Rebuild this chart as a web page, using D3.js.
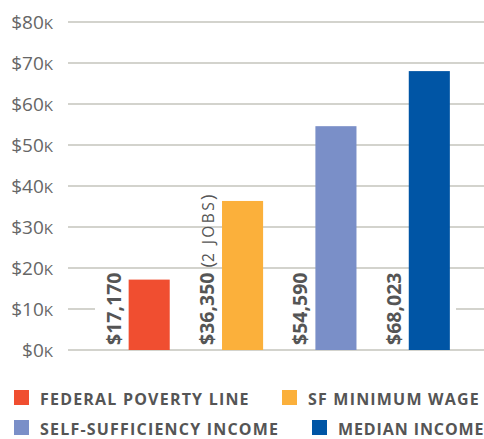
<!DOCTYPE html>
<html><head><meta charset="utf-8">
<script src="https://cdn.jsdelivr.net/npm/d3@7"></script>
<style>body{margin:0;background:#fff}svg{display:block}</style>
</head><body>
<script>
const categories = ["Federal Poverty Line","SF Minimum Wage","Self-Sufficiency Income","Median Income"];
const values = [17170, 36350, 54590, 68023];
const valueLabels = ["$17,170","$36,350","$54,590","$68,023"];
const valueNotes = ["","(2 jobs)","",""];
const colors = ["#f04e30","#fbb03b","#7a8fc8","#0055a5"];
const yTicks = [0,10000,20000,30000,40000,50000,60000,70000,80000];

const W=484,H=439;
const svg=d3.select("body").append("svg").attr("width",W).attr("height",H);
const font="'Open Sans', sans-serif";
const y=d3.scaleLinear().domain([0,80000]).range([350,22]);
const x=d3.scaleBand().domain(categories).range([102.5,476]).paddingInner(0.56).paddingOuter(0.28);

// gridlines
svg.append("g").selectAll("line").data(yTicks).join("line")
  .attr("x1",68).attr("x2",W).attr("y1",d=>y(d)).attr("y2",d=>y(d))
  .attr("stroke","#c4c4bc").attr("stroke-width",1.3);
// break at $10k line behind labels
svg.append("rect").attr("x",95).attr("width",456-95).attr("y",y(10000)-2).attr("height",4).attr("fill","#fff");

// tick labels
const tl=svg.append("g").selectAll("text").data(yTicks).join("text")
  .attr("x",53).attr("y",d=>y(d)+6.5).attr("text-anchor","end")
  .attr("font-family",font).attr("font-size",19).attr("fill","#666");
tl.append("tspan").text(d=>"$"+(d/1000));
tl.append("tspan").attr("font-size",15).text("K");

// bars
svg.append("g").selectAll("rect").data(values).join("rect")
  .attr("x",(d,i)=>x(categories[i])).attr("width",x.bandwidth())
  .attr("y",d=>y(d)).attr("height",d=>y(0)-y(d)).attr("fill",(d,i)=>colors[i]);

// value labels
const vl=svg.append("g").selectAll("text").data(values).join("text")
  .attr("transform",(d,i)=>`translate(${x(categories[i])-8},345) rotate(-90)`)
  .attr("font-family",font).attr("font-size",19.5).attr("font-weight",700).attr("fill","#555");
vl.append("tspan").text((d,i)=>valueLabels[i]);
vl.append("tspan").attr("font-weight",400).attr("font-size",19).text((d,i)=>valueNotes[i]?" (":"");
vl.append("tspan").attr("font-weight",400).attr("font-size",15.5).attr("letter-spacing",2.4).text((d,i)=>valueNotes[i]?valueNotes[i].slice(1,-1).toUpperCase():"");
vl.append("tspan").attr("font-weight",400).attr("font-size",19).text((d,i)=>valueNotes[i]?")":"");

// legend
const legPos=[[14,390],[282,390],[14,420],[312,420]];
const legSpacing=[1.2,1.2,1.2,0.9];
const lg=svg.append("g").selectAll("g").data(categories).join("g")
  .attr("transform",(d,i)=>`translate(${legPos[i][0]},${legPos[i][1]})`);
lg.append("rect").attr("width",15).attr("height",15).attr("fill",(d,i)=>colors[i]);
lg.append("text").attr("x",26).attr("y",15).attr("font-family",font).attr("font-size",16)
  .attr("font-weight",700).attr("letter-spacing",(d,i)=>legSpacing[i]).attr("fill","#555").text(d=>d.toUpperCase());
</script>
</body></html>
